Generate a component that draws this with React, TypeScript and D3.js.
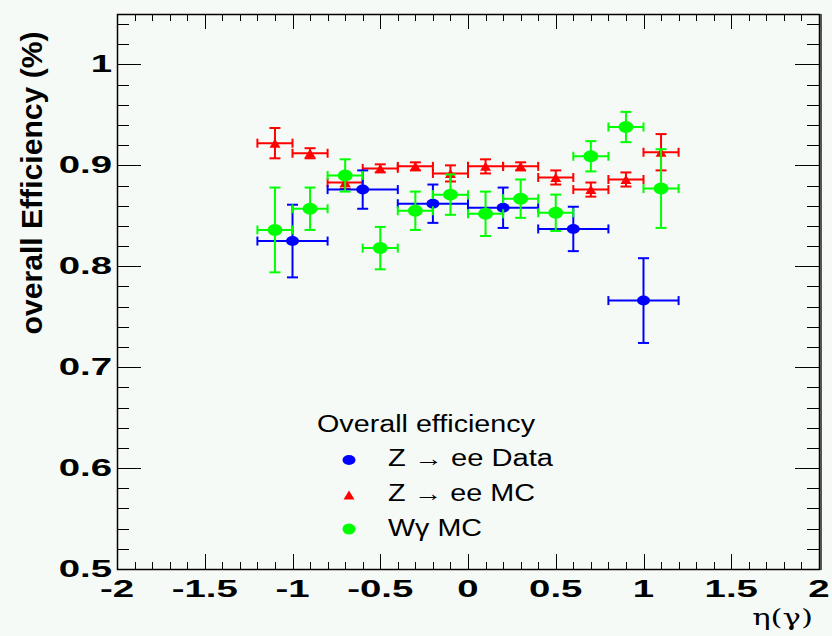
import React from "react";
import * as d3 from "d3";

// ---- data ----
const etaFine = [-1.1, -0.9, -0.7, -0.5, -0.3, -0.1, 0.1, 0.3, 0.5, 0.7, 0.9, 1.1];
const etaCoarse = [-1.0, -0.6, -0.2, 0.2, 0.6, 1.0];

const zeeDataEff = [0.825, 0.876, 0.862, 0.858, 0.837, 0.766];
const zeeDataErr = [0.036, 0.019, 0.019, 0.02, 0.022, 0.042];

const zeeMCEff = [0.922, 0.912, 0.883, 0.897, 0.899, 0.892, 0.899, 0.899, 0.888, 0.876, 0.886, 0.913];
const zeeMCErr = [0.015, 0.005, 0.006, 0.004, 0.004, 0.008, 0.007, 0.004, 0.007, 0.007, 0.007, 0.018];

const wgMCEff = [0.836, 0.857, 0.89, 0.818, 0.855, 0.871, 0.852, 0.867, 0.853, 0.909, 0.938, 0.877];
const wgMCErr = [0.042, 0.021, 0.016, 0.021, 0.019, 0.02, 0.022, 0.019, 0.018, 0.015, 0.015, 0.039];

const xTicks = [-2, -1.5, -1, -0.5, 0, 0.5, 1, 1.5, 2];
const yTicks = [0.5, 0.6, 0.7, 0.8, 0.9, 1];
const legendTitle = "Overall efficiency";
const legendLabels = ["Z \u2192 ee Data", "Z \u2192 ee MC", "W\u03b3 MC"];

// ---- layout ----
const W = 832, H = 636;
const L = 117, R = 819, T = 14, B = 569;
const BG = "#f6faf7";

const x = d3.scaleLinear().domain([-2, 2]).range([L, R]);
const y = d3.scaleLinear().domain([0.5, 1.05]).range([B, T]);

type Pt = { cx: number; cy: number; hw: number; err: number };

function ErrBars({ pts, color }: { pts: Pt[]; color: string }) {
  const cap = 4.5;
  return (
    <g stroke={color} strokeWidth={2} fill="none">
      {pts.map((p, i) => {
        const x0 = x(p.cx - p.hw), x1 = x(p.cx + p.hw);
        const y0 = y(p.cy - p.err), y1 = y(p.cy + p.err);
        const px = x(p.cx), py = y(p.cy);
        return (
          <g key={i}>
            <line x1={x0} x2={x1} y1={py} y2={py} />
            <line x1={x0} x2={x0} y1={py - cap} y2={py + cap} />
            <line x1={x1} x2={x1} y1={py - cap} y2={py + cap} />
            <line x1={px} x2={px} y1={y0} y2={y1} />
            <line x1={px - cap - 1} x2={px + cap + 1} y1={y0} y2={y0} />
            <line x1={px - cap - 1} x2={px + cap + 1} y1={y1} y2={y1} />
          </g>
        );
      })}
    </g>
  );
}

function Tri({ cx, cy, color, w = 11, h = 9 }: { cx: number; cy: number; color: string; w?: number; h?: number }) {
  return <path d={`M${cx - w / 2},${cy + h / 2}L${cx + w / 2},${cy + h / 2}L${cx},${cy - h / 2}Z`} fill={color} />;
}

function SText({ x0, y0, sx, anchor, size, weight, family, children }: any) {
  return (
    <text
      transform={`translate(${x0},${y0}) scale(${sx},1)`}
      textAnchor={anchor}
      fontSize={size}
      fontWeight={weight}
      fontFamily={family}
      fill="#000"
    >
      {children}
    </text>
  );
}

export default function App() {
  const dataPts: Pt[] = etaCoarse.map((e, i) => ({ cx: e, cy: zeeDataEff[i], hw: 0.2, err: zeeDataErr[i] }));
  const mcPts: Pt[] = etaFine.map((e, i) => ({ cx: e, cy: zeeMCEff[i], hw: 0.1, err: zeeMCErr[i] }));
  const wgPts: Pt[] = etaFine.map((e, i) => ({ cx: e, cy: wgMCEff[i], hw: 0.1, err: wgMCErr[i] }));

  const xMinor = d3.range(-20, 21).map((k) => k / 10);
  const yMinor = d3.range(25, 53).map((k) => k / 50);
  const isMajorX = (v: number) => Math.abs(v * 2 - Math.round(v * 2)) < 1e-6;
  const isMajorY = (v: number) => Math.abs(v * 10 - Math.round(v * 10)) < 1e-6;

  const font = "'Liberation Sans', Arial, Helvetica, sans-serif";

  return (
    <svg width={W} height={H} style={{ position: "absolute", left: 0, top: 0, display: "block" }}>
      <rect x={0} y={0} width={W} height={H} fill={BG} />

      {/* ticks */}
      <g stroke="#000" strokeWidth={1}>
        {xMinor.map((v, i) => {
          const mj = isMajorX(v);
          const px = Math.round(x(v)) + 0.5;
          return (
            <g key={"xt" + i}>
              <line x1={px} x2={px} y1={B} y2={B - (mj ? 15 : 7)} />
              <line x1={px} x2={px} y1={T} y2={T + (mj ? 15 : 7)} />
            </g>
          );
        })}
        {yMinor.map((v, i) => {
          const mj = isMajorY(v);
          const py = Math.round(y(v)) + 0.5;
          return (
            <g key={"yt" + i}>
              <line x1={L} x2={L + (mj ? 24 : 12)} y1={py} y2={py} />
              <line x1={R} x2={R - (mj ? 24 : 12)} y1={py} y2={py} />
            </g>
          );
        })}
      </g>

      {/* frame */}
      <rect x={L + 0.5} y={T + 0.5} width={R - L} height={B - T} fill="none" stroke="#000" strokeWidth={1.5} />
      <line x1={R + 2} x2={R + 2} y1={T} y2={B + 1} stroke="#555" strokeWidth={2} />

      {/* data */}
      <ErrBars pts={mcPts} color="#ff0000" />
      {mcPts.map((p, i) => (
        <Tri key={"m" + i} cx={x(p.cx)} cy={y(p.cy)} color="#ff0000" />
      ))}
      <ErrBars pts={dataPts} color="#0000ff" />
      {dataPts.map((p, i) => (
        <ellipse key={"d" + i} cx={x(p.cx)} cy={y(p.cy)} rx={6.5} ry={5} fill="#0000ff" />
      ))}
      <ErrBars pts={wgPts} color="#00ff00" />
      {wgPts.map((p, i) => (
        <ellipse key={"w" + i} cx={x(p.cx)} cy={y(p.cy)} rx={7.5} ry={6} fill="#00ff00" />
      ))}

      {/* tick labels */}
      {yTicks.map((v, i) => (
        <SText key={"yl" + i} x0={112} y0={y(v) + 8} sx={1.6} anchor="end" size={24} weight="bold" family={font}>
          {String(v)}
        </SText>
      ))}
      {xTicks.map((v, i) => (
        <SText key={"xl" + i} x0={x(v)} y0={597} sx={1.6} anchor="middle" size={24} weight="bold" family={font}>
          {String(v)}
        </SText>
      ))}

      {/* axis titles */}
      <SText x0={813} y0={625} sx={1.4} anchor="end" size={22} weight="normal" family="'DejaVu Serif', 'Liberation Serif', serif">
        {"\u03b7(\u03b3)"}
      </SText>
      <text
        transform={`translate(42,183) rotate(-90)`}
        textAnchor="middle"
        fontSize={29}
        fontFamily={font}
        fontWeight="bold"
        textLength={303}
        lengthAdjust="spacingAndGlyphs"
        fill="#000"
      >
        overall Efficiency (%)
      </text>

      {/* legend */}
      <text x={317} y={432} fontSize={23} fontFamily={font} textLength={218} lengthAdjust="spacingAndGlyphs" fill="#000">
        {legendTitle}
      </text>
      <ellipse cx={349} cy={460} rx={6.5} ry={5} fill="#0000ff" />
      <Tri cx={349} cy={495} color="#ff0000" />
      <ellipse cx={349} cy={529} rx={6.5} ry={5.5} fill="#00ff00" />
      {legendLabels.map((s, i) => (
        <text
          key={"lg" + i}
          x={388}
          y={[465.5, 500.5, 535.5][i]}
          fontSize={23}
          fontFamily={font}
          textLength={[165, 147, 94][i]}
          lengthAdjust="spacingAndGlyphs"
          fill="#000"
        >
          {s}
        </text>
      ))}
    </svg>
  );
}
